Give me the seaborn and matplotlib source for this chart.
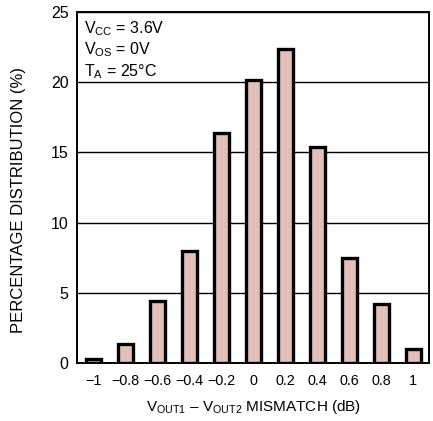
import matplotlib
matplotlib.use("Agg")
import matplotlib.pyplot as plt
import seaborn as sns
import pandas as pd

mismatch_labels = ["\u22121", "\u22120.8", "\u22120.6", "\u22120.4", "\u22120.2", "0", "0.2", "0.4", "0.6", "0.8", "1"]
percent = [0.3, 1.35, 4.4, 8.0, 16.4, 20.2, 22.35, 15.4, 7.45, 4.2, 1.0]
y_ticks = [0, 5, 10, 15, 20, 25]

sns.set_theme(style="white")
plt.rcParams['font.family'] = ['Liberation Sans Narrow', 'Liberation Sans', 'DejaVu Sans']
plt.rcParams['mathtext.fontset'] = 'custom'
plt.rcParams['mathtext.rm'] = 'Liberation Sans'

df = pd.DataFrame({"x": mismatch_labels, "y": percent})

fig = plt.figure(figsize=(4.33, 4.21), dpi=100)
ax = fig.add_axes([0.178, 0.138, 0.813, 0.833])

sns.barplot(data=df, x="x", y="y", order=mismatch_labels, color="#e2c0b8",
            saturation=1, width=0.47, edgecolor="black", linewidth=2.4, ax=ax)

ax.set_xlim(-0.5, len(mismatch_labels) - 0.5)
ax.set_ylim(0, 25)
ax.set_yticks(y_ticks)
ax.set_axisbelow(True)
ax.yaxis.grid(True, color="black", linewidth=1.0)
ax.xaxis.grid(False)
for s in ax.spines.values():
    s.set_color("black")
    s.set_linewidth(1.4)
ax.tick_params(axis="x", length=0, labelsize=10.4, colors="black", pad=8)
ax.tick_params(axis="y", length=0, labelsize=11.5, colors="black", pad=6)

ax.set_xlabel("V$_{\\mathregular{OUT1}}$ \u2013 V$_{\\mathregular{OUT2}}$ MISMATCH (dB)",
              fontsize=11, color="black", labelpad=7)
ax.set_ylabel("PERCENTAGE DISTRIBUTION (%)", fontsize=12, color="black")
ax.yaxis.set_label_coords(-0.145, 0.465)

txt = ("V$_{\\mathregular{CC}}$ = 3.6V\n"
       "V$_{\\mathregular{OS}}$ = 0V\n"
       "T$_{\\mathregular{A}}$ = 25\u00b0C")
ax.text(0.02, 0.981, txt, transform=ax.transAxes, ha="left", va="top",
        fontsize=11.5, color="black", linespacing=1.2)

fig.savefig("out.png", dpi=100)
